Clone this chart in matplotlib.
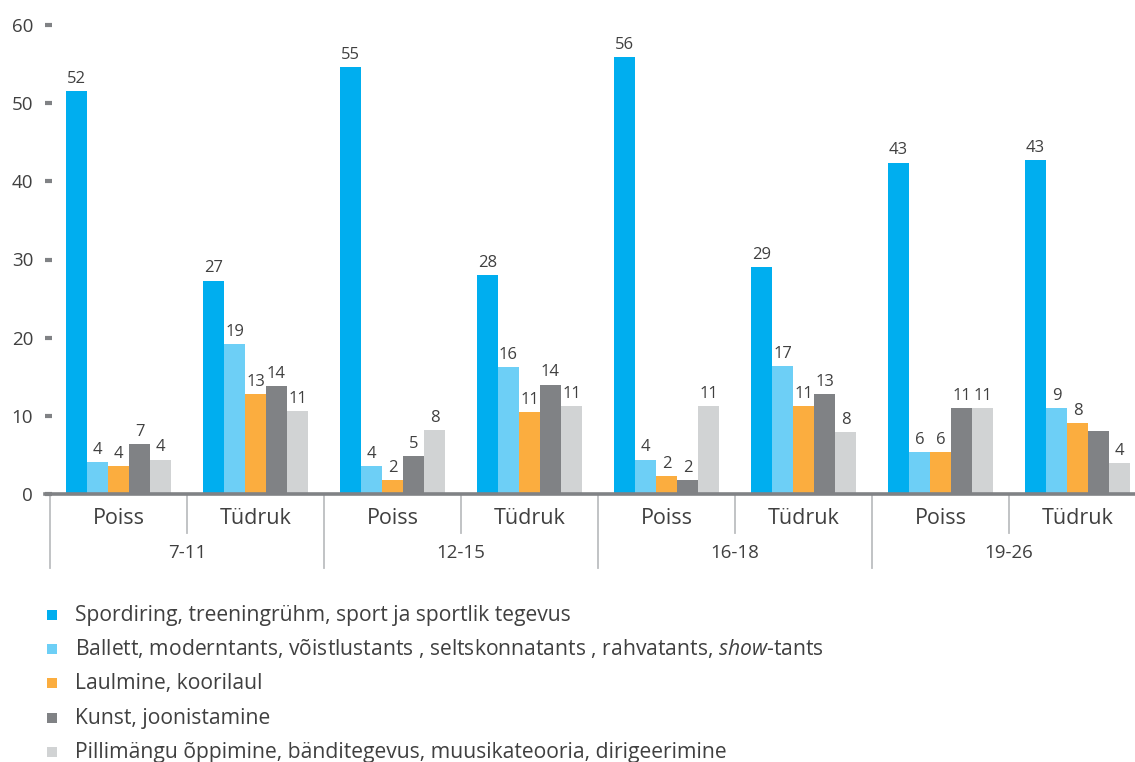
import matplotlib
matplotlib.use("Agg")
import matplotlib.pyplot as plt
from matplotlib.patches import Rectangle
import numpy as np

plt.rcParams['font.family'] = ['Open Sans', 'DejaVu Sans']
plt.rcParams['mathtext.fontset'] = 'custom'
plt.rcParams['mathtext.rm'] = 'Open Sans'
plt.rcParams['mathtext.it'] = 'Open Sans:italic'

# ---------- DATA ----------
ages = ["7-11", "12-15", "16-18", "19-26"]
genders = ["Poiss", "Tüdruk"]

series_names = [
    "Spordiring, treeningrühm, sport ja sportlik tegevus",
    r"Ballett, moderntants, võistlustants , seltskonnatants , rahvatants, $\it{show}$-tants",
    "Laulmine, koorilaul",
    "Kunst, joonistamine",
    "Pillimängu õppimine, bänditegevus, muusikateooria, dirigeerimine",
]

sport   = [51.5, 27.3, 54.6, 28.0, 55.9, 29.0, 42.4, 42.7]
tants   = [4.1, 19.2, 3.6, 16.2, 4.4, 16.4, 5.4, 11.0]
laul    = [3.6, 12.8, 1.8, 10.5, 2.3, 11.3, 5.4, 9.1]
kunst   = [6.4, 13.8, 4.9, 14.0, 1.8, 12.8, 11.0, 8.0]
muusika = [4.4, 10.6, 8.2, 11.2, 11.3, 7.9, 11.0, 4.0]

sport_lbl   = [52, 27, 55, 28, 56, 29, 43, 43]
tants_lbl   = [4, 19, 4, 16, 4, 17, 6, 9]
laul_lbl    = [4, 13, 2, 11, 2, 11, 6, 8]
kunst_lbl   = [7, 14, 5, 14, 2, 13, 11, None]
muusika_lbl = [4, 11, 8, 11, 11, 8, 11, 4]

values = [sport, tants, laul, kunst, muusika]
labels = [sport_lbl, tants_lbl, laul_lbl, kunst_lbl, muusika_lbl]
colors = ["#00AEEF", "#6DCFF6", "#FBAD3F", "#808285", "#D1D3D4"]

TXT = "#404040"
SEP = "#BCBEC0"

# ---------- FIGURE ----------
W, H = 1135, 762
fig = plt.figure(figsize=(W / 100, H / 100), dpi=100)

ax_left, ax_right = 45, 1146
ax_top, ax_bot = 25, 494
ax = fig.add_axes([ax_left / W, 1 - ax_bot / H,
                   (ax_right - ax_left) / W, (ax_bot - ax_top) / H])

n_slots = len(ages) * len(genders)
slot_px = (ax_right - ax_left - 5) / n_slots
bw = 21 / slot_px
x = np.arange(n_slots) + 0.5

for k, (vals, lbls, c) in enumerate(zip(values, labels, colors)):
    xs = x + (k - 2) * bw
    bars = ax.bar(xs, vals, width=bw, color=c, linewidth=0, zorder=2)
    ax.bar_label(bars, labels=["" if v is None else str(v) for v in lbls],
                 padding=3, fontsize=12, color=TXT)

ax.set_xlim(-5 / slot_px, n_slots)
ax.set_ylim(0, 60)
ax.set_yticks(range(0, 61, 10))
ax.tick_params(axis='y', direction='in', length=5, width=3, color="#808285",
               pad=8.5, labelsize=13.5, labelcolor=TXT)
ax.set_xticks([])

for s in ["top", "right", "left"]:
    ax.spines[s].set_visible(False)
ax.spines["bottom"].set_color("#808285")
ax.spines["bottom"].set_linewidth(2.6)
ax.spines["bottom"].set_zorder(3)

# ---------- CATEGORY AXIS ----------
tr = ax.get_xaxis_transform()
ah = ax_bot - ax_top
short_end = -(533 - ax_bot) / ah
long_end = -(568 - ax_bot) / ah
for b in range(n_slots + 1):
    y1 = long_end if b % 2 == 0 else short_end
    ax.plot([b, b], [0, y1], transform=tr, color=SEP, lw=1.3,
            clip_on=False, zorder=1)

for i in range(n_slots):
    ax.text(i + 0.5, -(519 - ax_bot) / ah, genders[i % 2], transform=tr,
            ha="center", va="center", fontsize=15.5, color=TXT)
for j, a in enumerate(ages):
    ax.text(2 * j + 1, -(553 - ax_bot) / ah, a, transform=tr,
            ha="center", va="center", fontsize=13.5, color=TXT)

# ---------- LEGEND ----------
row_y = [615, 649, 683, 718, 752]
for name, c, yy in zip(series_names, colors, row_y):
    fig.add_artist(Rectangle((47 / W, 1 - (yy + 5) / H), 10 / W, 10 / H,
                             transform=fig.transFigure, color=c, lw=0))
    fig.text(75 / W, 1 - (yy + 6) / H, name, ha="left", va="baseline",
             fontsize=15.2, color=TXT)

fig.savefig("out.png", dpi=100)
